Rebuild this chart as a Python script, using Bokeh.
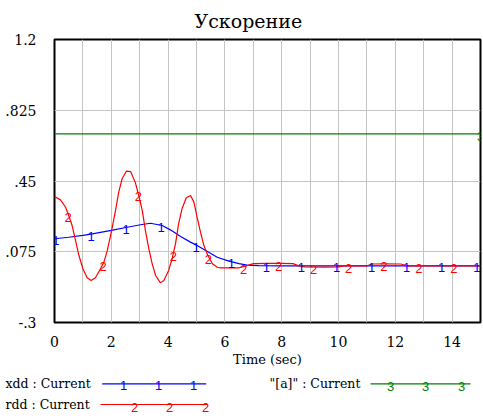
import numpy as np
from bokeh.plotting import figure
from bokeh.models import Range1d, FixedTicker
from bokeh.embed import file_html
from bokeh.resources import INLINE
from bokeh.core.properties import value

# ---------------- data ----------------
time_xdd = [0, 0.5, 1.0, 1.33, 2.0, 2.56, 3.03, 3.38, 3.79, 4.08, 4.44, 4.79, 5.02,
            5.37, 5.73, 6.14, 6.5, 6.78, 7.2, 8.0, 15.0]
xdd = [0.144, 0.152, 0.162, 0.170, 0.188, 0.205, 0.218, 0.226, 0.214, 0.191, 0.156,
       0.126, 0.108, 0.078, 0.046, 0.025, 0.012, 0.004, 0.001, 0.0, 0.0]

time_rdd = [0, 0.21, 0.39, 0.5, 0.62, 0.74, 0.86, 1.0, 1.15, 1.29, 1.44, 1.62, 1.74,
            1.86, 2.0, 2.15, 2.26, 2.38, 2.53, 2.68, 2.85, 2.97, 3.09, 3.2, 3.32, 3.44,
            3.56, 3.73, 3.85, 4.02, 4.14, 4.26, 4.37, 4.49, 4.64, 4.79, 4.91, 5.02,
            5.14, 5.26, 5.4, 5.56, 5.73, 5.85, 6.5, 6.75, 7.0, 7.5, 8.0, 8.4, 8.6, 8.8,
            9.5, 10.0, 10.2, 11.0, 11.2, 11.6, 12.2, 12.4, 15.0]
rdd = [0.368, 0.35, 0.311, 0.267, 0.214, 0.135, 0.055, -0.015, -0.063, -0.077, -0.063,
       -0.015, 0.02, 0.082, 0.179, 0.294, 0.39, 0.462, 0.502, 0.500, 0.44, 0.37, 0.294,
       0.188, 0.091, 0.011, -0.051, -0.09, -0.077, -0.024, 0.038, 0.117, 0.223, 0.303,
       0.361, 0.373, 0.338, 0.258, 0.179, 0.108, 0.055, 0.011, -0.007, -0.01, -0.01,
       0.0, 0.012, 0.013, 0.013, 0.012, 0.0, -0.005, -0.006, -0.005, 0.0, 0.0, 0.01,
       0.011, 0.01, 0.0, 0.0]

time_a = [0, 15]
a_vals = [0.7, 0.7]

xdd_marker_t = [0.05, 1.285, 2.52, 3.755, 4.99, 6.225, 7.46, 8.695, 9.93, 11.165, 12.4, 13.635, 14.87]
rdd_marker_t = [0.48, 1.715, 2.95, 4.185, 5.42, 6.655, 7.89, 9.125, 10.36, 11.595, 12.83, 14.065]
a_marker_t = [15.0]

x_ticks = [0, 2, 4, 6, 8, 10, 12, 14]
x_tick_labels = ["0", "2", "4", "6", "8", "10", "12", "14"]
x_grid_ticks = list(range(0, 16))
y_ticks = [-0.3, 0.075, 0.45, 0.825, 1.2]
y_tick_labels = ["-.3", ".075", ".45", ".825", "1.2"]

title_text = "Ускорение"
x_label = "Time (sec)"
legend_labels = ["xdd : Current", "rdd : Current", '"[a]" : Current']

BLUE = "#0000ff"
RED = "#ff0000"
GREEN = "#008000"
SERIF = "DejaVu Serif"
SANS = "Liberation Sans"

# ---------------- main figure ----------------
p = figure(width=483, height=370, x_range=Range1d(0, 15), y_range=Range1d(-0.3, 1.2),
           output_backend="svg", toolbar_location=None,
           min_border_left=54, min_border_right=3, min_border_top=39, min_border_bottom=48,
           title=title_text)
p.title.align = "left"
p.title.offset = 140
p.title.text_font = SERIF
p.title.text_font_size = "19px"
p.title.text_font_style = "normal"
p.title.text_color = "black"
p.title.standoff = 15

p.outline_line_color = "black"
p.outline_line_width = 2
p.background_fill_color = "white"
p.border_fill_color = "white"

p.xaxis.ticker = FixedTicker(ticks=x_ticks)
p.xaxis.major_label_overrides = {t: l for t, l in zip(x_ticks, x_tick_labels)}
p.yaxis.ticker = FixedTicker(ticks=y_ticks)
p.yaxis.major_label_overrides = {t: l for t, l in zip(y_ticks, y_tick_labels)}
for ax in (p.xaxis[0], p.yaxis[0]):
    ax.axis_line_color = None
    ax.major_tick_line_color = None
    ax.minor_tick_line_color = None
    ax.major_label_text_font = SERIF
    ax.major_label_text_font_size = "14px"
    ax.major_label_text_color = "black"
p.xaxis.major_label_standoff = 7
p.yaxis.major_label_standoff = 12
p.xaxis.axis_label = x_label
p.xaxis.axis_label_text_font = SERIF
p.xaxis.axis_label_text_font_size = "13px"
p.xaxis.axis_label_text_font_style = "normal"
p.xaxis.axis_label_text_color = "black"
p.xaxis.axis_label_standoff = 2

p.xgrid.ticker = FixedTicker(ticks=x_grid_ticks)
p.ygrid.ticker = FixedTicker(ticks=y_ticks)
p.grid.grid_line_color = "#c4c4c4"
p.grid.grid_line_width = 1

p.line(time_a, a_vals, line_color=GREEN, line_width=1.2)
p.line(time_xdd, xdd, line_color=BLUE, line_width=1.2)
p.line(time_rdd, rdd, line_color=RED, line_width=1.2)

p.text(x=xdd_marker_t, y=list(np.interp(xdd_marker_t, time_xdd, xdd)),
       text=["1"] * len(xdd_marker_t), text_color=BLUE, text_font=value(SANS),
       text_font_size="13px", text_align="center", text_baseline="middle", y_offset=2)
p.text(x=rdd_marker_t, y=list(np.interp(rdd_marker_t, time_rdd, rdd)),
       text=["2"] * len(rdd_marker_t), text_color=RED, text_font=value(SANS),
       text_font_size="13px", text_align="center", text_baseline="middle", y_offset=3)
p.text(x=a_marker_t, y=list(np.interp(a_marker_t, time_a, a_vals)),
       text=["3"] * len(a_marker_t), text_color=GREEN, text_font=value(SANS),
       text_font_size="13px", text_align="center", text_baseline="middle", y_offset=3)

# ---------------- legend figure (x/y in page pixels), separate root ----------------
leg = figure(width=483, height=49, x_range=Range1d(0, 483), y_range=Range1d(49, 0),
             output_backend="svg", toolbar_location=None,
             min_border_left=0, min_border_right=0, min_border_top=0, min_border_bottom=0,
             x_axis_type=None, y_axis_type=None)
leg.outline_line_color = None
leg.grid.visible = False
leg.background_fill_color = "white"
leg.border_fill_color = "white"

row1, row2 = 13.3, 34.0
leg.text(x=[5, 5, 269], y=[row1, row2, row1], text=legend_labels,
         text_color="black", text_font=value(SERIF), text_font_size="12.5px",
         text_align="left", text_baseline="middle")
leg.segment(x0=[101.7, 100, 370], y0=[row1, row2, row1], x1=[205.7, 207, 470], y1=[row1, row2, row1],
            line_color=[BLUE, RED, GREEN], line_width=1.2)
leg.text(x=[123, 158, 193], y=[row1] * 3, text=["1"] * 3, text_color=BLUE,
         text_font=value(SANS), text_font_size="13px", text_align="center",
         text_baseline="middle", y_offset=2)
leg.text(x=[134, 169, 205], y=[row2] * 3, text=["2"] * 3, text_color=RED,
         text_font=value(SANS), text_font_size="13px", text_align="center",
         text_baseline="middle", y_offset=3)
leg.text(x=[390, 425, 461], y=[row1] * 3, text=["3"] * 3, text_color=GREEN,
         text_font=value(SANS), text_font_size="13px", text_align="center",
         text_baseline="middle", y_offset=3)

open("out.html", "w").write(file_html([p, leg], INLINE))
